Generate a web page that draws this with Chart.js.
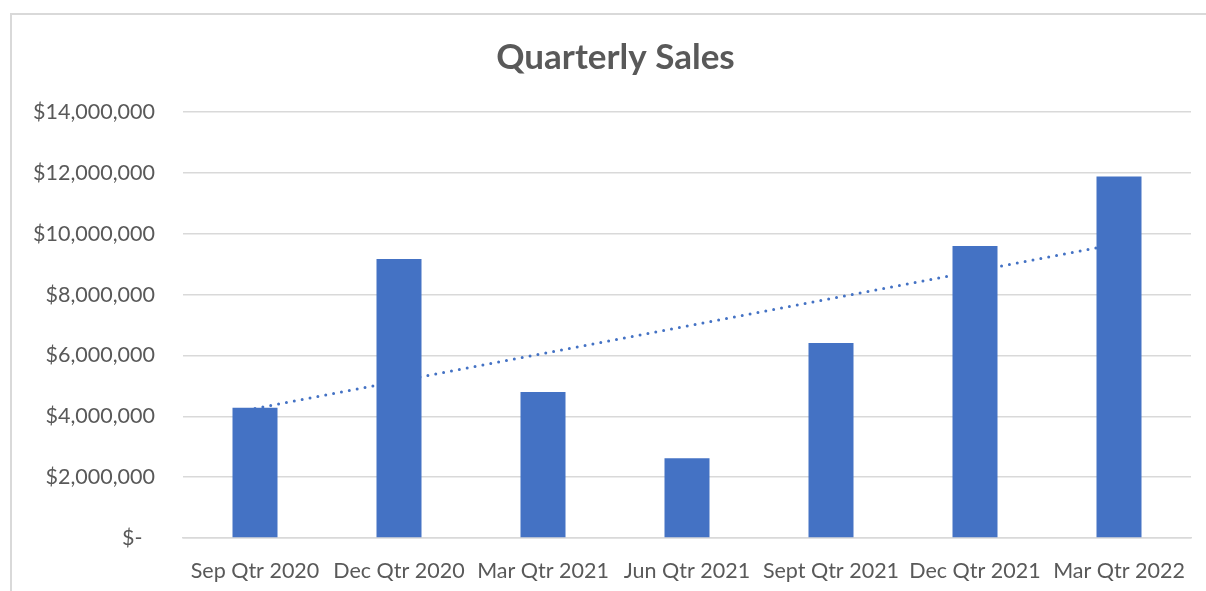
<!DOCTYPE html>
<html>
<head>
<meta charset="utf-8">
<script src="https://cdn.jsdelivr.net/npm/chart.js@4/dist/chart.umd.min.js"></script>
<style>
  html, body { margin: 0; padding: 0; background: #fff; overflow: hidden; }
  #frame {
    position: absolute; left: 10px; top: 13px; width: 1300px; height: 700px;
    border-left: 2px solid #d9d9d9; border-top: 2px solid #d9d9d9;
  }
  #wrap { position: absolute; left: 12px; top: 15px; width: 1207px; height: 576px; }
</style>
</head>
<body>
<div id="frame"></div>
<div id="wrap"><canvas id="salesChart"></canvas></div>
<script>
// Quarterly sales
const quarters = ['Sep Qtr 2020', 'Dec Qtr 2020', 'Mar Qtr 2021', 'Jun Qtr 2021', 'Sept Qtr 2021', 'Dec Qtr 2021', 'Mar Qtr 2022'];
const sales = [4280000, 9170000, 4800000, 2620000, 6410000, 9600000, 11880000];
const yTicks = [0, 2000000, 4000000, 6000000, 8000000, 10000000, 12000000, 14000000];

// linear trendline (least squares, like Excel)
function linearTrend(vals) {
  const n = vals.length;
  const mx = (n - 1) / 2;
  const my = vals.reduce((a, b) => a + b, 0) / n;
  let num = 0, den = 0;
  vals.forEach((v, i) => { num += (i - mx) * (v - my); den += (i - mx) * (i - mx); });
  const slope = num / den;
  return vals.map((v, i) => my + slope * (i - mx));
}

const textColor = '#595959';
const blue = '#4472C4';

// centre the title on the whole canvas, not on the padded box
const centerTitle = {
  id: 'centerTitle',
  afterLayout(chart) {
    if (chart.titleBlock) { chart.titleBlock.left = 0; chart.titleBlock.right = chart.width; }
  }
};

const ctx = document.getElementById('salesChart').getContext('2d');
new Chart(ctx, {
  type: 'bar',
  data: {
    labels: quarters,
    datasets: [{
      label: 'Sales',
      data: sales,
      backgroundColor: blue,
      borderWidth: 0,
      barPercentage: 0.3125,
      categoryPercentage: 1,
      order: 0
    }, {
      type: 'line',
      label: 'Linear (Sales)',
      data: linearTrend(sales),
      borderColor: blue,
      borderWidth: 3,
      borderDash: [0, 8],
      borderCapStyle: 'round',
      pointRadius: 0,
      fill: false,
      order: 1
    }]
  },
  plugins: [centerTitle],
  options: {
    responsive: true,
    maintainAspectRatio: false,
    animation: false,
    layout: { padding: { top: 0, right: 28, bottom: 0, left: 0 } },
    plugins: {
      legend: { display: false },
      tooltip: { enabled: false },
      title: {
        display: true,
        text: 'Quarterly Sales',
        color: textColor,
        font: { family: 'Lato', size: 35, weight: 'bold' },
        padding: { top: 22, bottom: 33 }
      }
    },
    scales: {
      x: {
        grid: { display: false, drawTicks: false },
        border: { display: true, color: '#d9d9d9', width: 1.5 },
        ticks: { color: textColor, font: { family: 'Lato', size: 21.5 }, padding: 20, maxRotation: 0, autoSkip: false },
        afterFit: (s) => { s.height = 53; }
      },
      y: {
        min: 0,
        max: 14000000,
        afterBuildTicks: (s) => { s.ticks = yTicks.map(v => ({ value: v })); },
        grid: { color: '#d9d9d9', lineWidth: 1.5, drawTicks: false },
        border: { display: false },
        ticks: {
          color: textColor,
          font: { family: 'Lato', size: 21.5 },
          padding: 28,
          callback: (v) => v === 0 ? '$-\u2007' : '$' + v.toLocaleString('en-US')
        },
        afterFit: (s) => { s.width = 171; }
      }
    }
  }
});
</script>
</body>
</html>
